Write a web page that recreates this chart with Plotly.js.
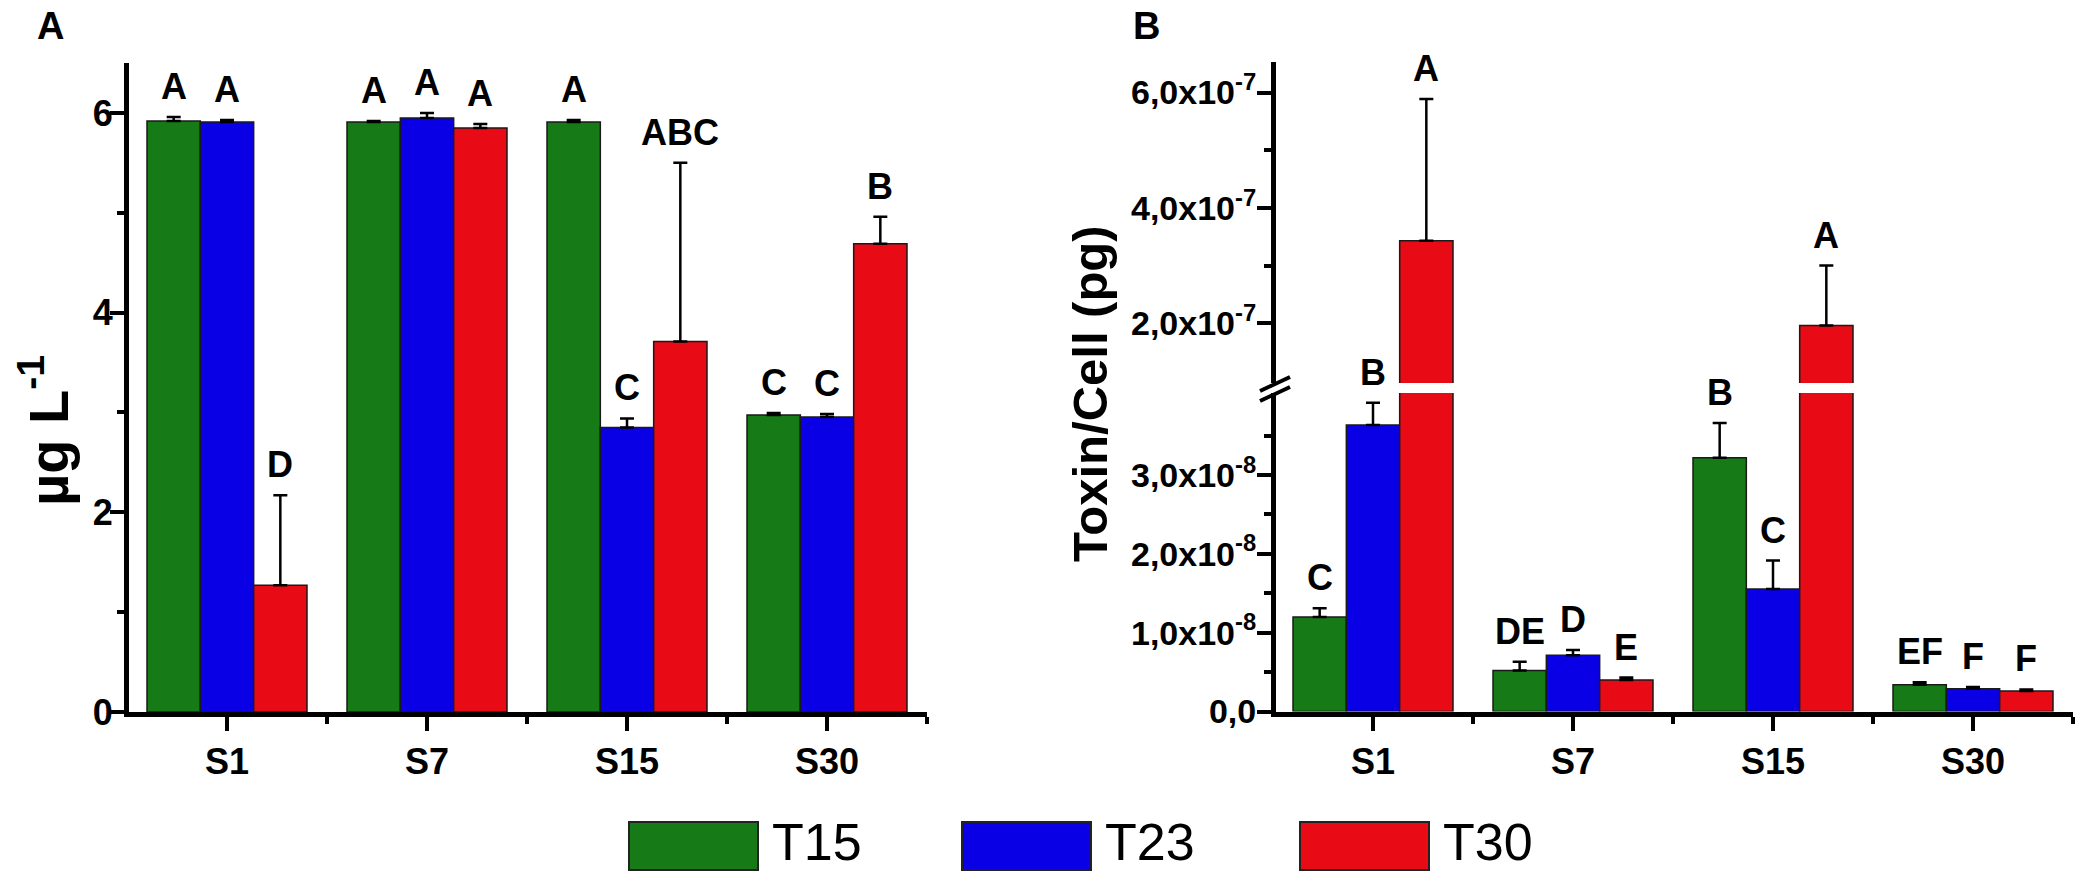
<!DOCTYPE html>
<html>
<head>
<meta charset="utf-8">
<script src="https://cdn.plot.ly/plotly-3.0.1.min.js"></script>
<style>html,body{margin:0;padding:0;background:#fff;}#chart{width:2083px;height:875px;}</style>
</head>
<body>
<div id="chart"></div>
<script>
// ---------- DATA ----------
const categories = ['S1', 'S7', 'S15', 'S30'];
const seriesNames = ['T15', 'T23', 'T30'];
const seriesColors = ['#167a16', '#0a00e6', '#e80a14'];

// Panel A: toxin concentration (µg L-1)
const concT15 = [5.92, 5.91, 5.91, 2.975];
const concT23 = [5.91, 5.95, 2.85, 2.955];
const concT30 = [1.27, 5.85, 3.71, 4.69];
const concErrT15 = [0.04, 0.01, 0.02, 0.02];
const concErrT23 = [0.02, 0.05, 0.09, 0.03];
const concErrT30 = [0.90, 0.04, 1.79, 0.27];
const concLetT15 = ['A', 'A', 'A', 'C'];
const concLetT23 = ['A', 'A', 'C', 'C'];
const concLetT30 = ['D', 'A', 'ABC', 'B'];

// Panel B: toxin per cell (pg)
const cellT15 = [1.20e-8, 0.52e-8, 3.22e-8, 0.34e-8];
const cellT23 = [3.635e-8, 0.715e-8, 1.555e-8, 0.29e-8];
const cellT30 = [3.43e-7, 0.40e-8, 1.96e-7, 0.26e-8];
const cellErrT15 = [0.11e-8, 0.11e-8, 0.44e-8, 0.03e-8];
const cellErrT23 = [0.28e-8, 0.065e-8, 0.36e-8, 0.02e-8];
const cellErrT30 = [2.46e-7, 0.03e-8, 1.04e-7, 0.02e-8];
const cellLetT15 = ['C', 'DE', 'B', 'EF'];
const cellLetT23 = ['B', 'D', 'C', 'F'];
const cellLetT30 = ['A', 'E', 'A', 'F'];

// Tick labels
const concTickVals = [0, 2, 4, 6];
const concTickText = ['0', '2', '4', '6'];
const cellLowTickVals = [0, 1e-8, 2e-8, 3e-8];
const cellLowTickText = ['0,0', '1,0x10<sup>-8</sup>', '2,0x10<sup>-8</sup>', '3,0x10<sup>-8</sup>'];
const cellLowMinor = [0.5e-8, 1.5e-8, 2.5e-8, 3.5e-8];
const cellHighTickVals = [2e-7, 4e-7, 6e-7];
const cellHighTickText = ['2,0x10<sup>-7</sup>', '4,0x10<sup>-7</sup>', '6,0x10<sup>-7</sup>'];
const cellHighMinor = [3e-7, 5e-7];

// ---------- LAYOUT HELPERS ----------
const W = 2083, H = 875;
const px = v => v / W;
const py = v => 1 - v / H;
const FONT = '"Liberation Sans", Arial, Helvetica, sans-serif';
const NARROW = '"Liberation Sans Narrow", "Arial Narrow", "Liberation Sans", Arial, sans-serif';
const BARGAP = 0.2;
const xIdx = categories.map((c, i) => i);

const concVals = [concT15, concT23, concT30];
const concErrs = [concErrT15, concErrT23, concErrT30];
const concLets = [concLetT15, concLetT23, concLetT30];
const cellVals = [cellT15, cellT23, cellT30];
const cellErrs = [cellErrT15, cellErrT23, cellErrT30];
const cellLets = [cellLetT15, cellLetT23, cellLetT30];

const LOW_MAX = 4.04e-8;

function barTrace(vals, errs, k, xa, ya) {
  return {
    type: 'bar', x: xIdx, y: vals, name: seriesNames[k], xaxis: xa, yaxis: ya,
    marker: { color: seriesColors[k], line: { color: '#1a1a1a', width: 1.5 } },
    error_y: { type: 'data', symmetric: false, array: errs, arrayminus: vals.map(() => 0),
      color: '#000', thickness: 2.5, width: 7 },
    showlegend: false, hoverinfo: 'x+y'
  };
}

const traces = [];
for (let k = 0; k < 3; k++) traces.push(barTrace(concVals[k], concErrs[k], k, 'x', 'y'));
for (let k = 0; k < 3; k++) traces.push(barTrace(cellVals[k], cellErrs[k], k, 'x2', 'y2'));
for (let k = 0; k < 3; k++) traces.push(barTrace(cellVals[k], cellErrs[k], k, 'x2', 'y3'));

const letterFont = { family: FONT, size: 36, color: '#000', weight: 'bold' };
const barW = (1 - BARGAP) / 3;
const annotations = [];
for (let k = 0; k < 3; k++) {
  for (let i = 0; i < categories.length; i++) {
    annotations.push({
      xref: 'x', yref: 'y', x: i + (k - 1) * barW, y: concVals[k][i] + concErrs[k][i],
      text: concLets[k][i], showarrow: false, xanchor: 'center', yanchor: 'bottom',
      yshift: 9, borderpad: 0, font: letterFont
    });
    const top = cellVals[k][i] + cellErrs[k][i];
    annotations.push({
      xref: 'x2', yref: top > LOW_MAX ? 'y3' : 'y2', x: i + (k - 1) * barW, y: top,
      text: cellLets[k][i], showarrow: false, xanchor: 'center', yanchor: 'bottom',
      yshift: 9, borderpad: 0, font: letterFont
    });
  }
}

// Axis titles & panel letters
annotations.push({ xref: 'paper', yref: 'paper', x: px(44), y: py(431), text: 'µg L<sup>-1</sup>',
  textangle: -90, showarrow: false, xanchor: 'center', yanchor: 'middle',
  font: { family: NARROW, size: 56, color: '#000', weight: 'bold' } });
annotations.push({ xref: 'paper', yref: 'paper', x: px(1090), y: py(394), text: 'Toxin/Cell (pg)',
  textangle: -90, showarrow: false, xanchor: 'center', yanchor: 'middle',
  font: { family: FONT, size: 49, color: '#000', weight: 'bold' } });
annotations.push({ xref: 'paper', yref: 'paper', x: px(50), y: py(26), text: 'A', showarrow: false,
  xanchor: 'center', yanchor: 'middle', font: { family: FONT, size: 38, color: '#000', weight: 'bold' } });
annotations.push({ xref: 'paper', yref: 'paper', x: px(1146), y: py(26), text: 'B', showarrow: false,
  xanchor: 'center', yanchor: 'middle', font: { family: FONT, size: 38, color: '#000', weight: 'bold' } });

// Legend (drawn as swatches + text)
const legendBoxX = [629, 962, 1300];
const shapes = [];
for (let k = 0; k < 3; k++) {
  shapes.push({ type: 'rect', xref: 'paper', yref: 'paper', x0: px(legendBoxX[k]), x1: px(legendBoxX[k] + 129),
    y0: py(870), y1: py(822), fillcolor: seriesColors[k], line: { color: '#222', width: 2 } });
  annotations.push({ xref: 'paper', yref: 'paper', x: px(legendBoxX[k] + 141), y: py(842), text: seriesNames[k],
    showarrow: false, xanchor: 'left', yanchor: 'middle', font: { family: FONT, size: 52, color: '#000' } });
}
// axis break marks
shapes.push({ type: 'line', xref: 'paper', yref: 'paper', x0: px(1260), y0: py(391), x1: px(1290), y1: py(377),
  line: { color: '#000', width: 4 } });
shapes.push({ type: 'line', xref: 'paper', yref: 'paper', x0: px(1260), y0: py(401), x1: px(1290), y1: py(387),
  line: { color: '#000', width: 4 } });

const tickFont = { family: FONT, size: 36, color: '#000', weight: 'bold' };
const yTickFontB = { family: FONT, size: 34, color: '#000', weight: 'bold' };
const commonX = {
  type: 'linear', tickmode: 'array', tickvals: xIdx, ticktext: categories,
  showline: true, linecolor: '#000', linewidth: 5, ticks: 'outside', ticklen: 14, tickwidth: 4,
  tickcolor: '#000', tickfont: tickFont, showgrid: false, zeroline: false, fixedrange: true,
  minor: { tick0: 0.5, dtick: 1, ticks: 'outside', ticklen: 7, tickwidth: 4, tickcolor: '#000', showgrid: false }
};
const commonY = {
  showline: true, linecolor: '#000', linewidth: 5, ticks: 'outside', ticklen: 14, tickwidth: 4,
  tickcolor: '#000', tickfont: tickFont, showgrid: false, zeroline: false, fixedrange: true,
  ticklabelstandoff: -6
};

const layout = {
  width: W, height: H, margin: { l: 0, r: 0, t: 0, b: 0 }, paper_bgcolor: '#fff', plot_bgcolor: 'rgba(0,0,0,0)',
  barmode: 'group', bargap: BARGAP, bargroupgap: 0, showlegend: false,
  xaxis: Object.assign({}, commonX, { domain: [px(129), px(927)], range: [-0.49, 3.5], anchor: 'y' }),
  yaxis: Object.assign({}, commonY, { domain: [py(712), py(63)], range: [0, 6.5], anchor: 'x',
    tickmode: 'array', tickvals: concTickVals, ticktext: concTickText, ticklabelstandoff: -10,
    minor: { tick0: 0, dtick: 1, ticks: 'outside', ticklen: 7, tickwidth: 4, tickcolor: '#000', showgrid: false } }),
  xaxis2: Object.assign({}, commonX, { domain: [px(1276), px(2073)], range: [-0.485, 3.5], anchor: 'y2' }),
  yaxis2: Object.assign({}, commonY, { domain: [py(711.5), py(393)], range: [0, LOW_MAX], anchor: 'x2',
    tickmode: 'array', tickvals: cellLowTickVals, ticktext: cellLowTickText, tickfont: yTickFontB,
    minor: { tickmode: 'array', tickvals: cellLowMinor, ticks: 'outside', ticklen: 7, tickwidth: 4, tickcolor: '#000', showgrid: false } }),
  yaxis3: Object.assign({}, commonY, { domain: [py(383), py(62)], range: [0.964e-7, 6.53e-7], anchor: 'x2',
    tickmode: 'array', tickvals: cellHighTickVals, ticktext: cellHighTickText, tickfont: yTickFontB,
    minor: { tickmode: 'array', tickvals: cellHighMinor, ticks: 'outside', ticklen: 7, tickwidth: 4, tickcolor: '#000', showgrid: false } }),
  annotations: annotations, shapes: shapes
};

Plotly.newPlot('chart', traces, layout, { displayModeBar: false, staticPlot: true });
</script>
</body>
</html>
